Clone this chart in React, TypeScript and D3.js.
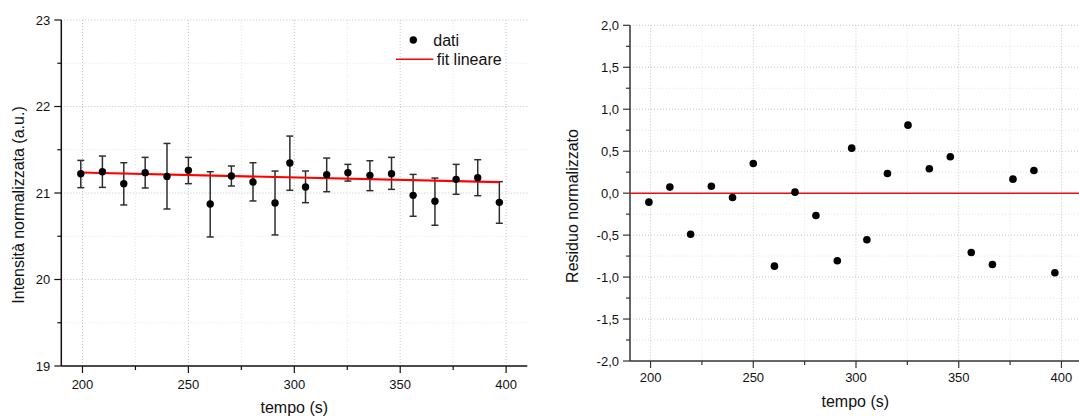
import React from "react";
import * as d3 from "d3";

const times = [199.2, 209.4, 219.5, 229.6, 239.9, 250.0, 260.3, 270.3, 280.5, 290.9, 297.9, 305.3, 315.3, 325.3, 335.7, 345.9, 356.1, 366.4, 376.4, 386.6, 396.8];
const intensity = [21.223, 21.246, 21.108, 21.235, 21.192, 21.262, 20.873, 21.196, 21.127, 20.885, 21.346, 21.069, 21.212, 21.235, 21.204, 21.223, 20.973, 20.904, 21.158, 21.177, 20.892];
const errUpper = [21.377, 21.427, 21.35, 21.412, 21.573, 21.412, 21.246, 21.312, 21.35, 21.254, 21.658, 21.254, 21.404, 21.331, 21.373, 21.412, 21.215, 21.173, 21.331, 21.385, 21.131];
const errLower = [21.062, 21.065, 20.862, 21.058, 20.815, 21.108, 20.492, 21.081, 20.908, 20.515, 21.031, 20.888, 21.015, 21.138, 21.027, 21.042, 20.731, 20.627, 20.985, 20.969, 20.65];
const residuals = [-0.107, 0.072, -0.489, 0.083, -0.052, 0.354, -0.87, 0.012, -0.266, -0.806, 0.536, -0.556, 0.234, 0.81, 0.29, 0.433, -0.707, -0.85, 0.167, 0.27, -0.949];
const fitX = [199.2, 396.8];
const fitY = [21.237, 21.125];
const xTicks = [200, 250, 300, 350, 400];
const xMinor = [225, 275, 325, 375];
const leftYTicks = [19, 20, 21, 22, 23];
const leftYMinor = [19.5, 20.5, 21.5, 22.5];
const rightYTicks = [-2, -1.5, -1, -0.5, 0, 0.5, 1, 1.5, 2];
const rightYMinor = [-1.75, -1.25, -0.75, -0.25, 0.25, 0.75, 1.25, 1.75];

const FONT = "Arial, 'Liberation Sans', sans-serif";
const fmtComma = (v: number) => d3.format(".1f")(v).replace(".", ",").replace("\u2212", "-");

export default function App() {
  const xL = d3.scaleLinear().domain([190, 410]).range([61.3, 527.3]);
  const yL = d3.scaleLinear().domain([19, 23]).range([366, 20]);
  const xR = d3.scaleLinear().domain([190, 410]).range([630, 1082]);
  const yR = d3.scaleLinear().domain([-2, 2]).range([361, 25.3]);

  const fitLine = d3.line<number>().x((d, i) => xL(fitX[i])).y((d) => yL(d));

  const axisColL = "#111";
  const axisColR = "#333";

  return (
    <svg width={1079} height={416} style={{ position: "absolute", left: 0, top: 0, background: "#fff" }} fontFamily={FONT}>
      <g>
        {xMinor.map((t) => (
          <line key={"lgxm" + t} x1={xL(t)} x2={xL(t)} y1={yL(23)} y2={yL(19)} stroke="#e4e4e4" strokeDasharray="1,2" />
        ))}
        {leftYMinor.map((t) => (
          <line key={"lgym" + t} x1={xL(190)} x2={xL(410)} y1={yL(t)} y2={yL(t)} stroke="#e4e4e4" strokeDasharray="1,2" />
        ))}
        {xTicks.map((t) => (
          <line key={"lgx" + t} x1={xL(t)} x2={xL(t)} y1={yL(23)} y2={yL(19)} stroke="#c4c4c4" strokeDasharray="1,2" />
        ))}
        {leftYTicks.filter((t) => t !== 19).map((t) => (
          <line key={"lgy" + t} x1={xL(190)} x2={xL(410)} y1={yL(t)} y2={yL(t)} stroke="#c4c4c4" strokeDasharray="1,2" />
        ))}
        <line x1={xL(190)} x2={xL(190)} y1={yL(23)} y2={yL(19)} stroke={axisColL} strokeWidth={1.5} />
        <line x1={xL(190)} x2={xL(410)} y1={yL(19)} y2={yL(19)} stroke={axisColL} strokeWidth={1.5} />
        {leftYTicks.map((t) => (
          <g key={"lyt" + t}>
            <line x1={xL(190) - 7} x2={xL(190)} y1={yL(t)} y2={yL(t)} stroke={axisColL} strokeWidth={1.2} />
            <text x={xL(190) - 11} y={yL(t)} dy="0.35em" textAnchor="end" fontSize={13} fill="#111">{t}</text>
          </g>
        ))}
        {leftYMinor.map((t) => (
          <line key={"lytm" + t} x1={xL(190) - 4} x2={xL(190)} y1={yL(t)} y2={yL(t)} stroke={axisColL} strokeWidth={1.2} />
        ))}
        {xTicks.map((t) => (
          <g key={"lxt" + t}>
            <line x1={xL(t)} x2={xL(t)} y1={yL(19)} y2={yL(19) + 7} stroke={axisColL} strokeWidth={1.2} />
            <text x={xL(t)} y={389} textAnchor="middle" fontSize={13} fill="#111">{t}</text>
          </g>
        ))}
        {xMinor.map((t) => (
          <line key={"lxtm" + t} x1={xL(t)} x2={xL(t)} y1={yL(19)} y2={yL(19) + 4} stroke={axisColL} strokeWidth={1.2} />
        ))}
        <text x={(xL(190) + xL(410)) / 2} y={412.5} textAnchor="middle" fontSize={16} fill="#111">tempo (s)</text>
        <text transform={`translate(24,${(yL(19) + yL(23)) / 2 + 12}) rotate(-90)`} textAnchor="middle" fontSize={16} fill="#111">Intensità normalizzata (a.u.)</text>

        {times.map((t, i) => (
          <g key={"eb" + i} stroke="#2e2e2e" strokeWidth={1.5}>
            <line x1={xL(t)} x2={xL(t)} y1={yL(errUpper[i])} y2={yL(errLower[i])} />
            <line x1={xL(t) - 3.5} x2={xL(t) + 3.5} y1={yL(errUpper[i])} y2={yL(errUpper[i])} />
            <line x1={xL(t) - 3.5} x2={xL(t) + 3.5} y1={yL(errLower[i])} y2={yL(errLower[i])} />
          </g>
        ))}
        <path d={fitLine(fitY) || ""} stroke="#ff0000" strokeWidth={2.2} fill="none" />
        {times.map((t, i) => (
          <circle key={"pt" + i} cx={xL(t)} cy={yL(intensity[i])} r={3.7} fill="#000" />
        ))}
        <circle cx={413.3} cy={40} r={3.7} fill="#000" />
        <text x={433.3} y={45.5} fontSize={16} fill="#111">dati</text>
        <line x1={396} x2={433.3} y1={59.3} y2={59.3} stroke="#ff0000" strokeWidth={1.5} />
        <text x={436.7} y={65} fontSize={16} fill="#111">fit lineare</text>
      </g>

      <g>
        {xMinor.map((t) => (
          <line key={"rgxm" + t} x1={xR(t)} x2={xR(t)} y1={yR(2)} y2={yR(-2)} stroke="#e4e4e4" strokeDasharray="1,2" />
        ))}
        {rightYMinor.map((t) => (
          <line key={"rgym" + t} x1={xR(190)} x2={xR(410)} y1={yR(t)} y2={yR(t)} stroke="#e4e4e4" strokeDasharray="1,2" />
        ))}
        {xTicks.map((t) => (
          <line key={"rgx" + t} x1={xR(t)} x2={xR(t)} y1={yR(2)} y2={yR(-2)} stroke="#c4c4c4" strokeDasharray="1,2" />
        ))}
        {rightYTicks.filter((t) => t !== -2).map((t) => (
          <line key={"rgy" + t} x1={xR(190)} x2={xR(410)} y1={yR(t)} y2={yR(t)} stroke="#c4c4c4" strokeDasharray="1,2" />
        ))}
        <line x1={xR(190)} x2={xR(190)} y1={yR(2)} y2={yR(-2)} stroke={axisColR} strokeWidth={1.5} />
        <line x1={xR(190)} x2={xR(410)} y1={yR(-2)} y2={yR(-2)} stroke={axisColR} strokeWidth={1.5} />
        {rightYTicks.map((t) => (
          <g key={"ryt" + t}>
            <line x1={xR(190) - 7} x2={xR(190)} y1={yR(t)} y2={yR(t)} stroke={axisColR} strokeWidth={1.2} />
            <text x={xR(190) - 11} y={yR(t)} dy="0.35em" textAnchor="end" fontSize={13} fill="#111">{fmtComma(t)}</text>
          </g>
        ))}
        {rightYMinor.map((t) => (
          <line key={"rytm" + t} x1={xR(190) - 4} x2={xR(190)} y1={yR(t)} y2={yR(t)} stroke={axisColR} strokeWidth={1.2} />
        ))}
        {xTicks.map((t) => (
          <g key={"rxt" + t}>
            <line x1={xR(t)} x2={xR(t)} y1={yR(-2)} y2={yR(-2) + 7} stroke={axisColR} strokeWidth={1.2} />
            <text x={xR(t)} y={382} textAnchor="middle" fontSize={13} fill="#111">{t}</text>
          </g>
        ))}
        {xMinor.map((t) => (
          <line key={"rxtm" + t} x1={xR(t)} x2={xR(t)} y1={yR(-2)} y2={yR(-2) + 4} stroke={axisColR} strokeWidth={1.2} />
        ))}
        <text x={855.3} y={407} textAnchor="middle" fontSize={16} fill="#111">tempo (s)</text>
        <text transform={`translate(578,206) rotate(-90)`} textAnchor="middle" fontSize={16} fill="#111">Residuo normalizzato</text>

        <line x1={xR(190)} x2={xR(410)} y1={yR(0)} y2={yR(0)} stroke="#e81010" strokeWidth={1.5} />
        {times.map((t, i) => (
          <circle key={"rp" + i} cx={xR(t)} cy={yR(residuals[i])} r={3.8} fill="#000" />
        ))}
      </g>
    </svg>
  );
}
